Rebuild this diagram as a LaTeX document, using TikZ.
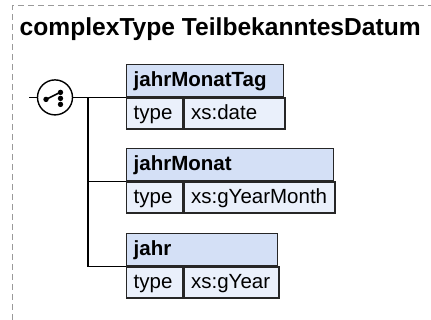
\documentclass[tikz,border=0pt]{standalone}
\usepackage{fontspec}
\setmainfont{Liberation Sans}
\usepackage{tikz}
\definecolor{headblue}{HTML}{D4E0F6}
\definecolor{cellblue}{HTML}{EAF0FB}
\definecolor{framegray}{HTML}{9A9A9A}

\begin{document}
\begin{tikzpicture}[x=1pt, y=-1pt,
        elembox/.style={draw=black!85, line width=1.4pt, inner xsep=7pt, inner ysep=0pt,
            align=left, text height=15pt, text depth=4pt,
            font=\fontsize{20.5}{24}\selectfont, anchor=north west},
        elemhead/.style={elembox, fill=headblue, minimum height=32pt, font=\fontsize{20.5}{24}\selectfont\bfseries},
        elemcell/.style={elembox, fill=cellblue, minimum height=31pt},
        conn/.style={draw=black, line width=1.4pt}]
            \useasboundingbox (0,0) rectangle (431,320);
            \draw[framegray, line width=1pt, dash pattern=on 6pt off 4pt] (12.5,320) |- (431,5.5);
            \node[anchor=base west, inner sep=0pt, font=\fontsize{24.6}{29}\selectfont\bfseries] (title) at (19.5,35.5) {complexType TeilbekanntesDatum};
            \foreach \nm/\y/\w/\tp in {jahrMonatTag/64/157/xs:date, jahrMonat/148/207/xs:gYearMonth, jahr/233/151/xs:gYear} {
                \node[elemhead, text width={(\w-14)*1pt}] (\nm) at (126,\y) {\nm};
                \node[elemcell, text width=42pt] (\nm-type) at (\nm.south west) {type};
                \node[elemcell, text width={(\w-70)*1pt}] (\nm-val) at (\nm-type.north east) {\tp};
            }
            \node[draw=black, line width=1.4pt, fill=white, circle, minimum size=35pt, inner sep=0pt] (seq) at (jahrMonatTag.south west -| 55,0) {};
            \draw[line width=1.6pt] ([shift={(-9,2)}]seq.center) -- ([shift={(5,-5)}]seq.center);
            \foreach \dy in {-5,1,7} {
                \fill ([shift={(5.5,\dy)}]seq.center) circle (2.7);
            }
            \fill ([shift={(-9,2)}]seq.center) circle (2.7);
            \coordinate (entry) at (jahrMonatTag.south west -| 29,0);
            \coordinate (branch) at (jahrMonatTag.south west -| 88,0);
            \draw[conn] (entry) -- (seq.west);
            \draw[conn] (seq.east) -- (branch) -- (jahrMonatTag.south west);
            \draw[conn] (branch) |- (jahrMonat.south west);
            \draw[conn] (branch) |- (jahr.south west);
        \end{tikzpicture}
\end{document}
